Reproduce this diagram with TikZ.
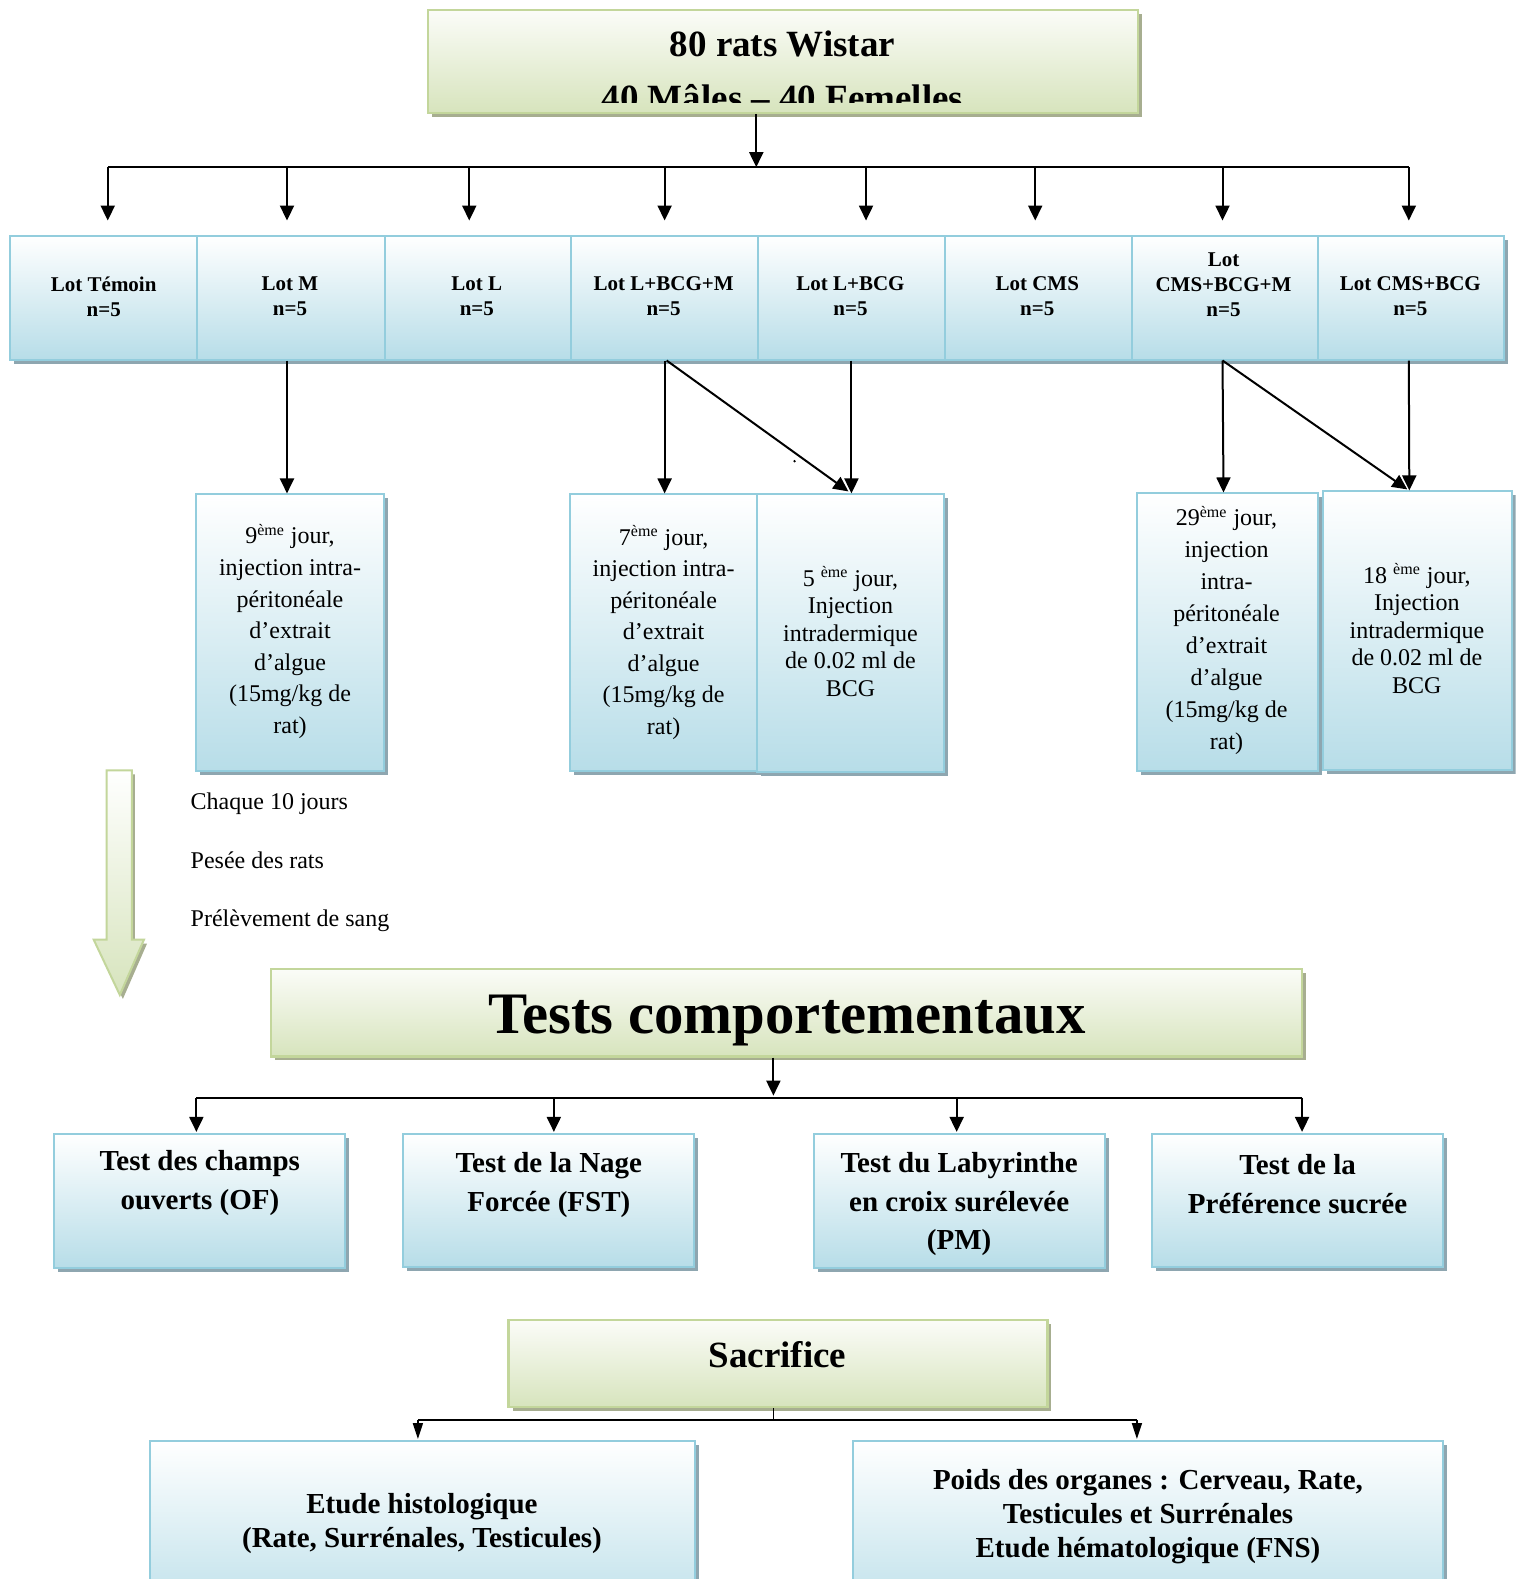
\documentclass[tikz,border=0pt]{standalone}
\usepackage{fontspec}
\setmainfont{Liberation Serif}
\usetikzlibrary{shadows,fit,arrows.meta,calc}
\definecolor{bluebot}{HTML}{B7DDE8}
\definecolor{blueborder}{HTML}{93CDDD}
\definecolor{blueshadow}{HTML}{8EA6B0}
\definecolor{greentop}{HTML}{FBFCF8}
\definecolor{greenbot}{HTML}{D7E4BD}
\definecolor{greenborder}{HTML}{C3D69B}
\definecolor{greenshadow}{HTML}{A7AE90}
\begin{document}
\begin{tikzpicture}[x=0.50365pt,y=-0.50365pt,
  bbox/.style={draw=blueborder, line width=1pt, top color=white, bottom color=bluebot, inner sep=0pt,
    drop shadow={shadow xshift=2pt, shadow yshift=-2pt, fill=blueshadow, opacity=1}},
  gbox/.style={draw=greenborder, line width=1.2pt, top color=greentop, bottom color=greenbot, inner sep=0pt,
    drop shadow={shadow xshift=2pt, shadow yshift=-2pt, fill=greenshadow, opacity=1}},
  lbl/.style={align=center, inner sep=0pt},
  lottxt/.style={lbl, font=\fontsize{10.5}{12.5}\selectfont\bfseries},
  injtxt/.style={lbl, font=\fontsize{12}{15.8}\selectfont},
  injtxtb/.style={lbl, font=\fontsize{12}{13.75}\selectfont},
  testtxt/.style={lbl, font=\fontsize{14.5}{19.3}\selectfont\bfseries},
  arr/.style={line width=1pt, -{Triangle[width=7pt,length=7.5pt]}},
  arrs/.style={line width=0.8pt, -{Triangle[width=5pt,length=8pt]}},
  plain/.style={line width=1pt}
]
\useasboundingbox (0,0) rectangle (1505,1568);
\clip (0,0) rectangle (1505,1568);
\fill[white] (0,0) rectangle (1505,1568);

% ---------- top box
\node[gbox, fit={(425,10)(1130,112)}] (top) {};
\begin{scope}
  \clip (425,10) rectangle (1130,102);
  \node[lbl, font=\fontsize{18.5}{27}\selectfont\bfseries] (toptxt) at (777,70) {80 rats Wistar\\40 Mâles – 40 Femelles};
\end{scope}

% ---------- lot row
\node[bbox, fit={(10,234)(196,357)}]    (lt)  {};
\node[bbox, fit={(196,234)(382,357)}]   (lm)  {};
\node[bbox, fit={(382,234)(567,357)}]   (ll)  {};
\node[bbox, fit={(567,234)(753,357)}]   (lbm) {};
\node[bbox, fit={(753,234)(938,357)}]   (lb)  {};
\node[bbox, fit={(938,234)(1124,357)}]  (lc)  {};
\node[bbox, fit={(1124,234)(1309,357)}] (cbm) {};
\node[bbox, fit={(1309,234)(1494,357)}] (cb)  {};

\node[lottxt] (lt-t)  at (103,294.5)    {Lot Témoin\\n=5};
\node[lottxt] (lm-t)  at (288,294.5)    {Lot M\\n=5};
\node[lottxt] (ll-t)  at (473.5,294.5)  {Lot L\\n=5};
\node[lottxt] (lbm-t) at (659,294.5)    {Lot L+BCG+M\\n=5};
\node[lottxt] (lb-t)  at (844.5,294.5)  {Lot L+BCG\\n=5};
\node[lottxt] (lc-t)  at (1030,294.5)   {Lot CMS\\n=5};
\node[lottxt] (cbm-t) at (1215,282.5)   {Lot\\CMS+BCG+M\\n=5};
\node[lottxt] (cb-t)  at (1400.5,294.5) {Lot CMS+BCG\\n=5};

% ---------- distribution arrows (top)
\coordinate (hub1) at (751,166);
\coordinate (e1) at ($(lt.north)+(4,-14)$);
\coordinate (e2) at ($(lm.north)+(-4,-14)$);
\coordinate (e3) at ($(ll.north)+(-8.5,-14)$);
\coordinate (e4) at ($(lbm.north)+(0,-14)$);
\coordinate (e5) at ($(lb.north)+(14.5,-14)$);
\coordinate (e6) at ($(lc.north)+(-3,-14)$);
\coordinate (e7) at ($(cbm.north)+(-2.5,-14)$);
\coordinate (e8) at ($(cb.north)+(-2.5,-14)$);
\draw[arr] (top.south -| hub1) -- (hub1);
\draw[plain] (e1 |- hub1) -- (e8 |- hub1);
\foreach \e in {e1,e2,e3,e4,e5,e6,e7,e8}
  \draw[arr] (\e |- hub1) -- (\e);

% ---------- injection boxes
\node[bbox, fit={(195,491)(381,766)}]   (injA) {};
\node[bbox, fit={(566,491)(752,766)}]   (injB) {};
\node[bbox, fit={(752,491)(937,767)}]   (injC) {};
\node[bbox, fit={(1129,490)(1309,766)}] (injD) {};
\node[bbox, fit={(1314,488)(1501,765)}] (injE) {};

\node[injtxt] (injA-t) at (288,627) {9\textsuperscript{ème} jour,\\injection intra-\\péritonéale\\d’extrait\\d’algue\\(15mg/kg de\\rat)};
\node[injtxt] (injB-t) at (659,628) {7\textsuperscript{ème} jour,\\injection intra-\\péritonéale\\d’extrait\\d’algue\\(15mg/kg de\\rat)};
\node[injtxtb] (injC-t) at (844.5,627) {5 \textsuperscript{ème} jour,\\Injection\\intradermique\\de 0.02 ml de\\BCG};
\node[injtxt, font=\fontsize{12}{16}\selectfont] (injD-t) at (1218,626) {29\textsuperscript{ème} jour,\\injection\\intra-\\péritonéale\\d’extrait\\d’algue\\(15mg/kg de\\rat)};
\node[injtxtb] (injE-t) at (1407,624) {18 \textsuperscript{ème} jour,\\Injection\\intradermique\\de 0.02 ml de\\BCG};

% ---------- lower arrows
\coordinate (pM) at (285,0);
\draw[arr] (lm.south -| pM) -- (injA.north -| pM);
\draw[arr] (lbm.south) -- (injB.north -| lbm.south);
\draw[arr] ($(lbm.south)+(2,0)$) -- ($(injC.north)+(-2,-2)$);
\draw[arr] (lb.south) -- (injC.north -| lb.south);
\draw[arr] ($(cbm.south)+(-2.5,0)$) -- ($(injD.north)+(-4,0)$);
\draw[arr] ($(cbm.south)+(-2.5,0)$) -- ($(injE.north)+(-10,-1)$);
\draw[arr] ($(cb.south)+(-2.5,0)$) -- ($(injE.north)+(-8,0)$);
\fill (789,458) circle (1.3);

% ---------- green block arrow
\fill[greenshadow] (109,769) -- (134,769) -- (134,937) -- (146,937) -- (122,992) -- (96,937) -- (109,937) -- cycle;
\path[top color=white, bottom color=greenbot, draw=greenborder, line width=1pt]
  (106,765) -- (131,765) -- (131,933) -- (143,933) -- (119,988) -- (93,933) -- (106,933) -- cycle;

\node[anchor=west, inner sep=0pt, font=\fontsize{12}{14}\selectfont] (c1) at (189,798) {Chaque 10 jours};
\node[anchor=west, inner sep=0pt, font=\fontsize{12}{14}\selectfont] (c2) at (189,854) {Pesée des rats};
\node[anchor=west, inner sep=0pt, font=\fontsize{12}{14}\selectfont] (c3) at (189,914) {Prélèvement de sang};

% ---------- tests
\node[gbox, fit={(269,962)(1293,1049)}] (tests) {};
\node[lbl, font=\fontsize{29.4}{34}\selectfont\bfseries] (tests-t) at (781.5,1013) {Tests comportementaux};

\node[bbox, fit={(54,1126)(343,1259)}]    (of)   {};
\node[bbox, fit={(400,1126)(689,1258)}]   (fst)  {};
\node[bbox, fit={(808,1126)(1097,1259)}]  (pm)   {};
\node[bbox, fit={(1144,1126)(1433,1258)}] (pref) {};

\node[testtxt] (of-t)   at (198.5,1175)  {Test des champs\\ouverts (OF)};
\node[testtxt] (fst-t)  at (545,1177)    {Test de la Nage\\Forcée (FST)};
\node[testtxt] (pm-t)   at (952.5,1196)  {Test du Labyrinthe\\en croix surélevée\\(PM)};
\node[testtxt] (pref-t) at (1288.5,1176) {Test de la\\Préférence sucrée};

\coordinate (hub2) at (768,1090);
\coordinate (f1) at ($(of.north)+(-3.5,-1)$);
\coordinate (f2) at ($(fst.north)+(5.5,-1)$);
\coordinate (f3) at ($(pm.north)+(-2.5,-1)$);
\coordinate (f4) at ($(pref.north)+(4.5,-1)$);
\draw[arr] (tests.south -| hub2) -- ($(hub2)+(0,-2)$);
\draw[plain] (f1 |- hub2) -- (f4 |- hub2);
\foreach \f in {f1,f2,f3,f4}
  \draw[arr] (\f |- hub2) -- (\f);

% ---------- sacrifice
\node[gbox, fit={(505,1311)(1040,1397)}] (sac) {};
\node[lbl, font=\fontsize{18.5}{22}\selectfont\bfseries] (sac-t) at (772,1345) {Sacrifice};

\node[bbox, fit={(149,1431)(690,1620)}]  (histo) {};
\node[bbox, fit={(847,1431)(1433,1620)}] (poids) {};
\node[testtxt, font=\fontsize{14.5}{17}\selectfont\bfseries] (histo-t) at (419,1513) {Etude histologique\\(Rate, Surrénales, Testicules)};
\node[testtxt, font=\fontsize{14.5}{17}\selectfont\bfseries] (poids-t) at (1140,1506) {Poids des organes : Cerveau, Rate,\\Testicules et Surrénales\\Etude hématologique (FNS)};

\coordinate (hub3) at (768,1410);
\coordinate (g1) at ($(histo.north)+(-4.5,-1)$);
\coordinate (g2) at ($(poids.north)+(-11,-1)$);
\draw[line width=0.8pt] (sac.south -| hub3) -- (hub3);
\draw[line width=0.8pt] (g1 |- hub3) -- (g2 |- hub3);
\draw[arrs] (g1 |- hub3) -- (g1);
\draw[arrs] (g2 |- hub3) -- (g2);
\end{tikzpicture}
\end{document}
